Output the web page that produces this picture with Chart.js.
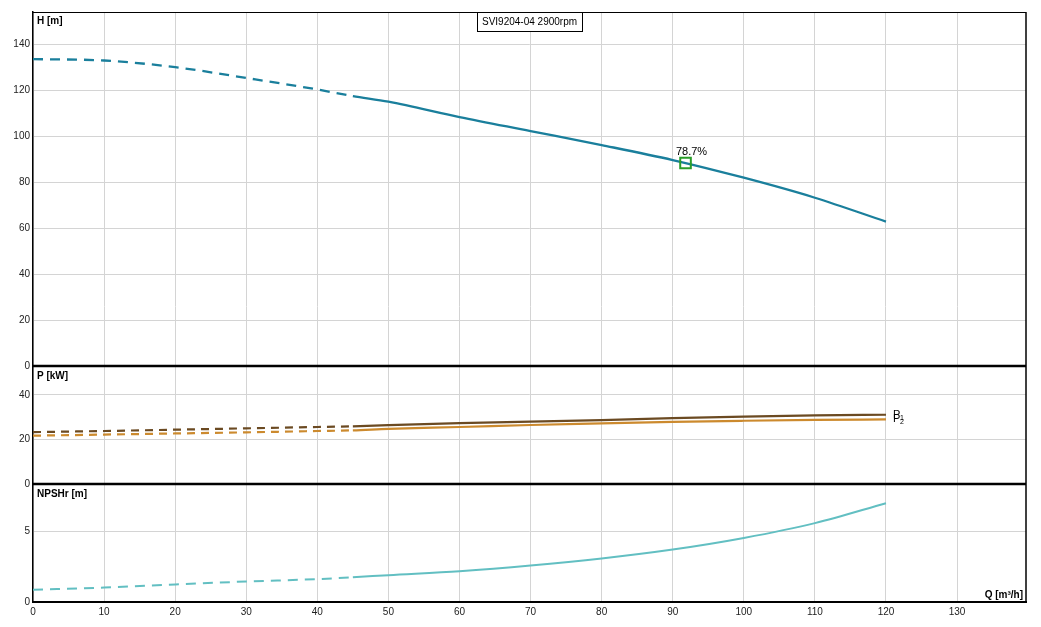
<!DOCTYPE html>
<html>
<head>
<meta charset="utf-8">
<script src="https://cdn.jsdelivr.net/npm/chart.js@4/dist/chart.umd.min.js"></script>
<style>
  html, body { margin: 0; padding: 0; background: #fff; }
  #wrap { width: 1041px; height: 627px; }
</style>
</head>
<body>
<div id="wrap"><canvas id="pump-chart"></canvas></div>
<script>
// Flow points Q [m3/h]
const flow = [0, 10, 20, 30, 40, 45, 50, 60, 70, 80, 90, 100, 110, 120];
// Head H [m]
const head = [133.5, 132.9, 130.0, 125.3, 120.3, 117.4, 115.0, 108.3, 102.2, 96.1, 89.6, 81.9, 73.2, 62.8];
// Power P1 and P2 [kW]
const powerP1 = [23.3, 23.8, 24.4, 25.0, 25.6, 25.9, 26.4, 27.3, 28.0, 28.7, 29.6, 30.3, 30.8, 31.1];
const powerP2 = [21.7, 22.2, 22.7, 23.2, 23.8, 24.1, 24.8, 25.6, 26.5, 27.2, 27.9, 28.4, 28.8, 29.0];
// NPSHr [m]
const npshr = [0.86, 1.02, 1.24, 1.45, 1.62, 1.75, 1.90, 2.18, 2.58, 3.08, 3.71, 4.53, 5.58, 6.99];
// Duty point
const dutyQ = 91.8;
const dutyH = 88.3;
const dutyLabel = '78.7%';
const title = 'SVI9204-04 2900rpm';
const dashLimit = 45;

const FONT = '"Liberation Sans", Arial, sans-serif';

function toPoints(ys) {
  return flow.map((q, i) => ({ x: q, y: ys[i] }));
}

const dashed = (dash) => ({
  borderDash: ctx => ctx.p1.parsed.x <= dashLimit ? dash : undefined
});

// Fixed y axis width so the three stacked panels line up
const fixWidth = scale => { scale.width = 33; };

// Frame, panel separators, captions and labels
const decorations = {
  id: 'decorations',
  afterDatasetsDraw(chart) {
    const { ctx, chartArea, scales } = chart;
    const { left, right, top, bottom } = chartArea;
    ctx.save();

    // outer frame
    ctx.strokeStyle = '#000';
    ctx.lineWidth = 1;
    ctx.beginPath();
    ctx.moveTo(left, top + 0.5);
    ctx.lineTo(right, top + 0.5);
    ctx.stroke();
    ctx.lineWidth = 1.5;
    ctx.beginPath();
    ctx.moveTo(right, top);
    ctx.lineTo(right, bottom);
    ctx.stroke();

    // thick separators between panels
    ctx.lineWidth = 2.5;
    [scales.yH.bottom, scales.yP.bottom].forEach(y => {
      ctx.beginPath();
      ctx.moveTo(left, y);
      ctx.lineTo(right, y);
      ctx.stroke();
    });

    // panel captions
    ctx.fillStyle = '#000';
    ctx.font = 'bold 10px ' + FONT;
    ctx.textAlign = 'left';
    ctx.textBaseline = 'top';
    ctx.fillText('H [m]', left + 4, scales.yH.top + 4);
    ctx.fillText('P [kW]', left + 4, scales.yP.top + 5);
    ctx.fillText('NPSHr [m]', left + 4, scales.yN.top + 5);
    ctx.textAlign = 'right';
    ctx.textBaseline = 'bottom';
    ctx.fillText('Q [m\u00b3/h]', right - 3, bottom - 2);

    // title box
    ctx.font = '10px ' + FONT;
    const cx = (left + right) / 2;
    const tw = ctx.measureText(title).width + 10;
    ctx.fillStyle = '#fff';
    ctx.fillRect(cx - tw / 2, top, tw, 19);
    ctx.lineWidth = 1;
    ctx.strokeRect(Math.round(cx - tw / 2) + 0.5, top + 0.5, Math.round(tw), 19);
    ctx.fillStyle = '#000';
    ctx.textAlign = 'center';
    ctx.textBaseline = 'middle';
    ctx.fillText(title, cx, top + 10);

    // duty point label
    const px = scales.x.getPixelForValue(dutyQ);
    const py = scales.yH.getPixelForValue(dutyH);
    ctx.font = '11px ' + FONT;
    ctx.textBaseline = 'bottom';
    ctx.fillText(dutyLabel, px + 6, py - 6);

    // P1 / P2 end labels
    const ex = scales.x.getPixelForValue(flow[flow.length - 1]) + 7;
    [[powerP1, '1'], [powerP2, '2']].forEach(([arr, sub]) => {
      const ey = scales.yP.getPixelForValue(arr[arr.length - 1]);
      ctx.textAlign = 'left';
      ctx.textBaseline = 'middle';
      ctx.font = '11px ' + FONT;
      ctx.fillText('P', ex, ey);
      ctx.font = '7px ' + FONT;
      ctx.fillText(sub, ex + 7, ey + 3);
    });

    ctx.restore();
  }
};

const tickFont = { family: FONT, size: 10 };
const gridColor = '#d4d4d4';

new Chart(document.getElementById('pump-chart'), {
  type: 'line',
  data: {
    datasets: [
      {
        label: 'Duty point',
        type: 'scatter',
        data: [{ x: dutyQ, y: dutyH }],
        yAxisID: 'yH',
        pointStyle: 'rect',
        pointRadius: 7.5,
        pointBorderWidth: 2,
        pointBorderColor: '#2a9d2a',
        pointBackgroundColor: 'rgba(0,0,0,0)'
      },
      {
        label: 'H',
        data: toPoints(head),
        yAxisID: 'yH',
        borderColor: '#1a7f9c',
        borderWidth: 2.3,
        segment: dashed([10, 7])
      },
      {
        label: 'P1',
        data: toPoints(powerP1),
        yAxisID: 'yP',
        borderColor: '#6b4a22',
        borderWidth: 2.2,
        segment: dashed([8, 6])
      },
      {
        label: 'P2',
        data: toPoints(powerP2),
        yAxisID: 'yP',
        borderColor: '#cc8a2e',
        borderWidth: 2.2,
        segment: dashed([8, 6])
      },
      {
        label: 'NPSHr',
        data: toPoints(npshr),
        yAxisID: 'yN',
        borderColor: '#62bfc2',
        borderWidth: 2,
        segment: dashed([10, 7])
      }
    ]
  },
  options: {
    responsive: true,
    maintainAspectRatio: false,
    animation: false,
    layout: { padding: { top: 12, right: 15, left: 0, bottom: 5 } },
    elements: {
      point: { radius: 0 },
      line: { cubicInterpolationMode: 'monotone' }
    },
    plugins: {
      legend: { display: false },
      tooltip: { enabled: false }
    },
    scales: {
      x: {
        type: 'linear',
        min: 0,
        max: 139.7,
        ticks: { stepSize: 10, includeBounds: false, font: tickFont, color: '#222', padding: 4, maxRotation: 0 },
        grid: { color: gridColor, drawTicks: false },
        border: { color: '#000', width: 2 }
      },
      yN: {
        type: 'linear',
        position: 'left',
        stack: 'panels',
        stackWeight: 1,
        min: 0,
        max: 8.35,
        afterFit: fixWidth,
        ticks: { stepSize: 5, includeBounds: false, font: tickFont, color: '#222', padding: 3 },
        grid: { color: gridColor, drawTicks: false },
        border: { color: '#000', width: 1.5 }
      },
      yP: {
        type: 'linear',
        position: 'left',
        stack: 'panels',
        stackWeight: 1,
        min: 0,
        max: 53,
        afterFit: fixWidth,
        ticks: { stepSize: 20, includeBounds: false, font: tickFont, color: '#222', padding: 3 },
        grid: { color: gridColor, drawTicks: false },
        border: { color: '#000', width: 1.5 }
      },
      yH: {
        type: 'linear',
        position: 'left',
        stack: 'panels',
        stackWeight: 3,
        min: 0,
        max: 154,
        afterFit: fixWidth,
        ticks: { stepSize: 20, includeBounds: false, font: tickFont, color: '#222', padding: 3 },
        grid: { color: gridColor, drawTicks: false },
        border: { color: '#000', width: 1.5 }
      }
    }
  },
  plugins: [decorations]
});
</script>
</body>
</html>
